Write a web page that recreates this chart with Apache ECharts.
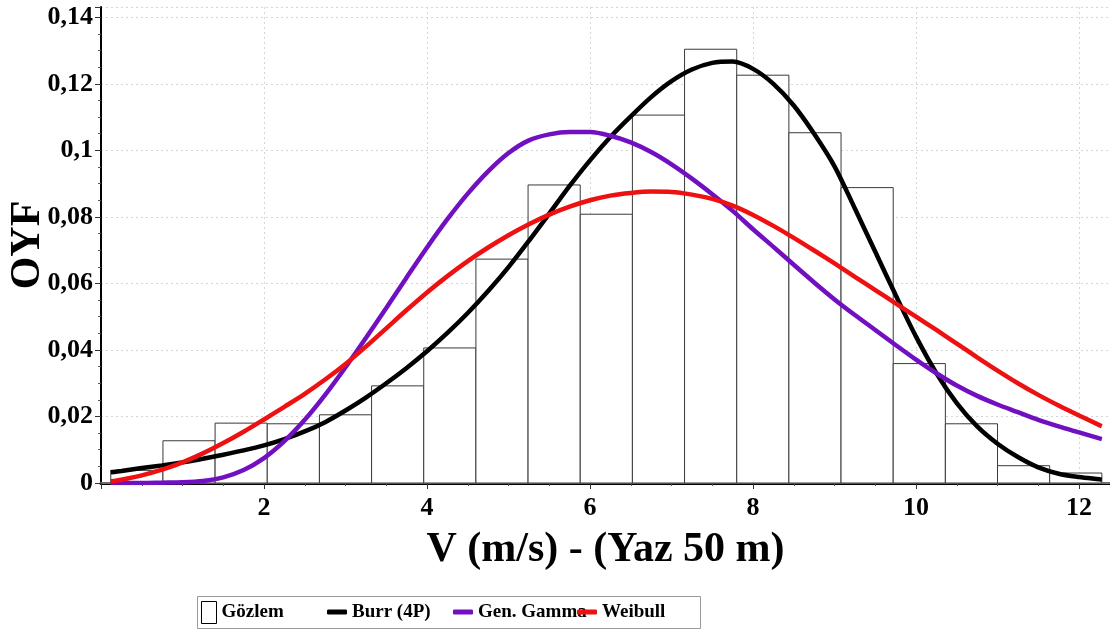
<!DOCTYPE html>
<html>
<head>
<meta charset="utf-8">
<script src="https://cdn.jsdelivr.net/npm/echarts/dist/echarts.min.js"></script>
<style>
html,body{margin:0;padding:0;background:#fff;}
#chart{width:1110px;height:635px;}
</style>
</head>
<body>
<div id="chart"></div>
<script>
// Histogram (Gözlem): bin edges and heights
const binLeft  = [0.12,0.76,1.40,2.04,2.68,3.32,3.96,4.60,5.24,5.88,6.52,7.16,7.80,8.44,9.08,9.72,10.36,11.00,11.64];
const binRight = [0.76,1.40,2.04,2.68,3.32,3.96,4.60,5.24,5.88,6.52,7.16,7.80,8.44,9.08,9.72,10.36,11.00,11.64,12.28];
const binHeight = [0.0038,0.0127,0.0180,0.0178,0.0205,0.0292,0.0406,0.0673,0.0896,0.0808,0.1106,0.1304,0.1226,0.1053,0.0888,0.0359,0.0178,0.0052,0.0030];

// Curve sample positions (read every 0.25 m/s)
const curveX = [0.12,0.25,0.5,0.75,1.0,1.25,1.5,1.75,2.0,2.25,2.5,2.75,3.0,3.25,3.5,3.75,4.0,4.25,4.5,4.75,5.0,5.25,5.5,5.75,6.0,6.25,6.5,6.75,7.0,7.25,7.5,7.75,8.0,8.25,8.5,8.75,9.0,9.25,9.5,9.75,10.0,10.25,10.5,10.75,11.0,11.25,11.5,11.75,12.0,12.25,12.28];
const burrY  = [0.0032,0.0036,0.0045,0.0053,0.0062,0.0073,0.0085,0.0098,0.0113,0.0132,0.0155,0.0183,0.0218,0.0257,0.0300,0.0346,0.0396,0.0451,0.0511,0.0577,0.0649,0.0728,0.0810,0.0893,0.0970,0.1040,0.1102,0.1160,0.1208,0.1243,0.1263,0.1267,0.1245,0.1200,0.1135,0.1050,0.0952,0.0825,0.0695,0.0565,0.0440,0.0330,0.0240,0.0170,0.0118,0.0078,0.0047,0.0028,0.0018,0.0011,0.0010];
const gammaY = [0.0000,0.0000,0.0000,0.0001,0.0002,0.0006,0.0017,0.0039,0.0075,0.0126,0.0190,0.0265,0.0348,0.0436,0.0526,0.0618,0.0708,0.0793,0.0870,0.0937,0.0992,0.1030,0.1048,0.1055,0.1055,0.1044,0.1024,0.0995,0.0958,0.0915,0.0868,0.0818,0.0763,0.0710,0.0656,0.0603,0.0552,0.0505,0.0460,0.0415,0.0371,0.0330,0.0293,0.0262,0.0236,0.0213,0.0190,0.0170,0.0152,0.0134,0.0132];
const weibY  = [0.0005,0.0010,0.0023,0.0040,0.0062,0.0089,0.0120,0.0154,0.0191,0.0229,0.0268,0.0311,0.0358,0.0410,0.0465,0.0520,0.0573,0.0622,0.0667,0.0708,0.0745,0.0778,0.0807,0.0831,0.0850,0.0864,0.0872,0.0876,0.0875,0.0867,0.0854,0.0834,0.0806,0.0773,0.0737,0.0699,0.0660,0.0620,0.0580,0.0540,0.0500,0.0460,0.0419,0.0378,0.0338,0.0300,0.0265,0.0233,0.0203,0.0174,0.0171];

// Tick labels
const yTickLabels = ['0','0,02','0,04','0,06','0,08','0,1','0,12','0,14'];
const xTickLabels = ['0','2','4','6','8','10','12'];

const seriesNames = ['Gözlem','Burr (4P)','Gen. Gamma','Weibull'];
const colors = {burr:'#000000', gamma:'#7010c0', weib:'#ee1111'};

const serif = '"Liberation Serif","Times New Roman",serif';

const histData = binHeight.map((h,i)=>[binLeft[i], binRight[i], h]);
const pairs = ys => curveX.map((x,i)=>[x, ys[i]]);

const chart = echarts.init(document.getElementById('chart'), null, {renderer:'canvas'});

const legendBase = {
  top: 601, padding: 0, selectedMode: false, orient: 'horizontal',
  itemWidth: 20, itemHeight: 5,
  textStyle: {fontFamily: serif, fontWeight: 'bold', fontSize: 19, color: '#000', lineHeight: 22}
};

const option = {
  animation: false,
  backgroundColor: '#fff',
  grid: {left: 101, right: 0, top: 7, bottom: 152, show: false, containLabel: false, outerBoundsMode: 'none'},
  xAxis: [{
    type: 'value', min: 0, max: 12.38, interval: 2,
    name: 'V (m/s) - (Yaz 50 m)', nameLocation: 'middle', nameGap: 46,
    nameTextStyle: {fontFamily: serif, fontWeight: 'bold', fontSize: 42, color: '#000'},
    axisLine: {show: true, onZero: false, lineStyle: {color: '#000', width: 3}},
    axisTick: {show: true, length: 6, lineStyle: {color: '#333', width: 1}},
    minorTick: {show: true, splitNumber: 4, length: 3, lineStyle: {color: '#555'}},
    axisLabel: {
      margin: 12, showMinLabel: false, showMaxLabel: false,
      fontFamily: serif, fontWeight: 'bold', fontSize: 26, color: '#000',
      formatter: v => { const i = Math.round(v/2); return Math.abs(v - i*2) < 1e-6 && xTickLabels[i] !== undefined ? xTickLabels[i] : ''; }
    },
    splitLine: {show: true, lineStyle: {color: '#d6d6d6', type: [2,3], width: 1}}
  },{
    type: 'value', min: 0, max: 12.38, position: 'top',
    axisLine: {show: true, lineStyle: {color: '#707070', width: 2}},
    axisTick: {show: false}, axisLabel: {show: false}, splitLine: {show: false}
  }],
  yAxis: {
    type: 'value', min: 0, max: 0.1431, interval: 0.02,
    name: 'OYF', nameLocation: 'middle', nameGap: 52, nameMoveOverlap: false,
    nameTextStyle: {fontFamily: serif, fontWeight: 'bold', fontSize: 42, color: '#000'},
    axisLine: {show: true, lineStyle: {color: '#000', width: 2}},
    axisTick: {show: true, length: 6, lineStyle: {color: '#333', width: 1}},
    minorTick: {show: true, splitNumber: 4, length: 3, lineStyle: {color: '#555'}},
    axisLabel: {
      margin: 8, showMaxLabel: false,
      fontFamily: serif, fontWeight: 'bold', fontSize: 26, color: '#000',
      formatter: v => { const i = Math.round(v/0.02); return Math.abs(v - i*0.02) < 1e-6 && yTickLabels[i] !== undefined ? yTickLabels[i] : ''; }
    },
    splitLine: {show: true, lineStyle: {color: '#d6d6d6', type: [2,3], width: 1}}
  },
  legend: [
    Object.assign({}, legendBase, {left: 201, itemWidth: 15, itemHeight: 22,
      data: [{name: seriesNames[0], icon: 'rect', itemStyle: {color: '#fff', borderColor: '#000', borderWidth: 1}}]}),
    Object.assign({}, legendBase, {left: 327, data: [{name: seriesNames[1], icon: 'roundRect'}]}),
    Object.assign({}, legendBase, {left: 453, data: [{name: seriesNames[2], icon: 'roundRect'}]}),
    Object.assign({}, legendBase, {left: 577, data: [{name: seriesNames[3], icon: 'roundRect'}]})
  ],
  graphic: [{
    type: 'rect', left: 197, top: 596, z: -1,
    shape: {width: 503, height: 32},
    style: {fill: '#fff', stroke: '#9a9a9a', lineWidth: 1}
  }],
  series: [{
    name: seriesNames[0], type: 'custom', xAxisIndex: 0,
    data: histData, encode: {x: [0,1], y: 2},
    itemStyle: {color: '#fff', borderColor: '#000'},
    renderItem: (params, api) => {
      const p0 = api.coord([api.value(0), api.value(2)]);
      const p1 = api.coord([api.value(1), 0]);
      return {type: 'rect', shape: {x: p0[0], y: p0[1], width: p1[0]-p0[0], height: p1[1]-p0[1]},
        style: {fill: '#fff', stroke: '#3a3a3a', lineWidth: 1}};
    }
  },{
    name: seriesNames[1], type: 'line', data: pairs(burrY), smooth: 0.3, showSymbol: false, symbol: 'none',
    lineStyle: {color: colors.burr, width: 4.5}, itemStyle: {color: colors.burr}, z: 3
  },{
    name: seriesNames[2], type: 'line', data: pairs(gammaY), smooth: 0.3, showSymbol: false, symbol: 'none',
    lineStyle: {color: colors.gamma, width: 4.5}, itemStyle: {color: colors.gamma}, z: 4
  },{
    name: seriesNames[3], type: 'line', data: pairs(weibY), smooth: 0.3, showSymbol: false, symbol: 'none',
    lineStyle: {color: colors.weib, width: 4.5}, itemStyle: {color: colors.weib}, z: 5
  }]
};
chart.setOption(option);
</script>
</body>
</html>
